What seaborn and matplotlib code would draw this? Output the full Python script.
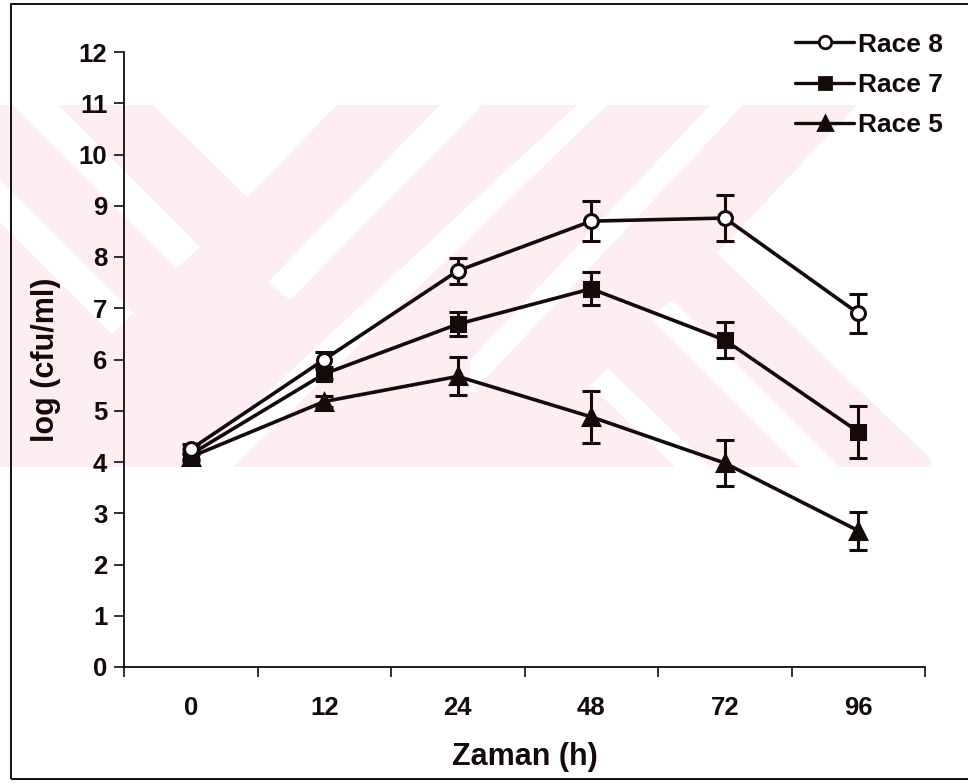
import numpy as np
import pandas as pd
import matplotlib
matplotlib.use("Agg")
import matplotlib.pyplot as plt
from matplotlib.patches import Polygon, Rectangle
from matplotlib.lines import Line2D
import seaborn as sns

# ---------------- data ----------------
times = ["0", "12", "24", "48", "72", "96"]
race8 = [4.25, 6.00, 7.73, 8.70, 8.76, 6.90]
race8_err = [0.10, 0.15, 0.26, 0.39, 0.45, 0.38]
race7 = [4.15, 5.72, 6.69, 7.38, 6.38, 4.59]
race7_err = [0.10, 0.10, 0.24, 0.32, 0.35, 0.51]
race5 = [4.10, 5.18, 5.67, 4.88, 3.98, 2.66]
race5_err = [0.08, 0.10, 0.37, 0.51, 0.44, 0.37]
series_names = ["Race 8", "Race 7", "Race 5"]
y_ticks = list(range(0, 13))

# ---------------- style ----------------
sns.set_style("ticks")
plt.rcParams["font.family"] = ["Liberation Sans", "DejaVu Sans"]
plt.rcParams["font.weight"] = "bold"

W, H = 968, 783
fig = plt.figure(figsize=(W / 100, H / 100), dpi=100)
fig.patch.set_facecolor("white")

def fx(x):
    return x / W

def fy(y):
    return 1 - y / H

# faint watermark (background decoration)
pink = "#feeef1"
def poly(pts, color):
    p = Polygon([(fx(x), fy(y)) for x, y in pts], closed=True,
                transform=fig.transFigure, facecolor=color,
                edgecolor="none", zorder=-5)
    fig.patches.append(p)

poly([(0, 105), (932, 105), (932, 467), (0, 467)], pink)
white_shapes = [
    [(153, 105), (337, 105), (247, 197)],
    [(13, 105), (58, 105), (200, 247), (177, 268)],
    [(0, 180), (133, 313), (112, 334), (0, 222)],
    [(187, 467), (233, 467), (607, 105), (577, 105)],
    [(440, 105), (482, 105), (290, 300), (268, 282)],
    [(710, 105), (743, 105), (470, 395), (470, 360)],
    [(650, 317), (673, 300), (840, 467), (800, 467)],
    [(590, 385), (608, 368), (710, 467), (675, 467)],
    [(857, 105), (932, 105), (932, 460), (717, 253)],
]
for s in white_shapes:
    poly(s, "white")

# outer frame of the figure
fig.patches.append(Rectangle((fx(11), fy(779)), fx(990) - fx(11), fy(4) - fy(779),
                             transform=fig.transFigure, fill=False,
                             edgecolor="#111111", linewidth=1.4, zorder=-4))

# ---------------- axes ----------------
ax_left, ax_right, ax_top, ax_bottom = 124, 925, 52, 667
ax = fig.add_axes([fx(ax_left), fy(ax_bottom), fx(ax_right) - fx(ax_left),
                   fy(ax_top) - fy(ax_bottom)])
ax.patch.set_alpha(0)

pos = np.arange(len(times))
ink = "#140a0a"

df = pd.DataFrame({
    "pos": np.tile(pos, 3),
    "val": race8 + race7 + race5,
    "race": np.repeat(series_names, len(times)),
})

specs = {
    "Race 8": dict(marker="o", mfc="white", ms=10, err=race8_err),
    "Race 7": dict(marker="s", mfc=ink, ms=10, err=race7_err),
    "Race 5": dict(marker="^", mfc=ink, ms=11, err=race5_err),
}

for name in ["Race 5", "Race 7", "Race 8"]:
    sp = specs[name]
    sub = df[df["race"] == name]
    ax.errorbar(sub["pos"], sub["val"], yerr=sp["err"], fmt="none",
                ecolor=ink, elinewidth=2.2, capsize=6.5, capthick=2.2, zorder=2)
    sns.lineplot(data=sub, x="pos", y="val", ax=ax, color=ink, linewidth=2.6,
                 marker=sp["marker"], markersize=sp["ms"],
                 markerfacecolor=sp["mfc"], markeredgecolor=ink,
                 markeredgewidth=2.2, sort=False, legend=False, zorder=3)

ax.set_xlim(-0.5, len(times) - 0.5)
ax.set_ylim(0, 12)
ax.set_yticks(y_ticks)
ax.set_yticklabels([str(v) for v in y_ticks], fontsize=18.5, fontweight="bold")
ax.set_xticks(pos)
ax.set_xticklabels(times, fontsize=18.5, fontweight="bold")
ax.set_xticks(np.arange(-0.5, len(times), 1.0), minor=True)
ax.tick_params(axis="x", which="major", length=0, pad=21, colors=ink)
ax.tick_params(axis="x", which="minor", length=7, width=1.2, direction="out", color=ink)
ax.tick_params(axis="y", which="major", length=7, width=1.2, direction="out",
               pad=5, colors=ink)

for side in ["top", "right"]:
    ax.spines[side].set_visible(False)
for side in ["left", "bottom"]:
    ax.spines[side].set_linewidth(1.3)
    ax.spines[side].set_color(ink)

ax.set_xlabel("Zaman (h)", fontsize=22, fontweight="bold", labelpad=16, color=ink)
ax.set_ylabel("log (cfu/ml)", fontsize=22, fontweight="bold", labelpad=13, color=ink)

# legend
handles = []
for name in series_names:
    sp = specs[name]
    handles.append(Line2D([0], [0], color=ink, linewidth=2.4, marker=sp["marker"],
                          markersize=sp["ms"] * 0.9, markerfacecolor=sp["mfc"],
                          markeredgecolor=ink, markeredgewidth=2.0))
leg = fig.legend(handles, series_names, loc="upper left",
                 bbox_to_anchor=(fx(784), fy(22)), frameon=False,
                 handlelength=2.27, handletextpad=0.12, labelspacing=0.62,
                 borderaxespad=0, prop={"size": 19, "weight": "bold"})
for t in leg.get_texts():
    t.set_color(ink)

fig.savefig("out.png", dpi=100, facecolor="white")
